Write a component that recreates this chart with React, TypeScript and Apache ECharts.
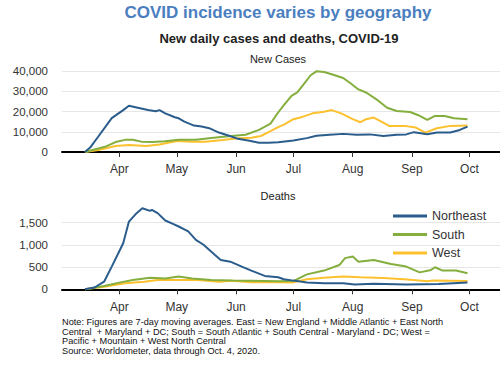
import React, { useEffect, useRef } from "react";
import * as echarts from "echarts";

// Axis domain: first and last day on the x axis
const axisStart = "2020-03-02";
const axisEnd = "2020-10-17";
const monthTicks = ["04-01", "05-01", "06-01", "07-01", "08-01", "09-01", "10-01"];
const monthLabels = ["Apr", "May", "Jun", "Jul", "Aug", "Sep", "Oct"];

const seriesNames = ["Northeast", "South", "West"];

const casesTicks = [0, 10000, 20000, 30000, 40000];
const deathsTicks = [0, 500, 1000, 1500];

// New cases (7-day avg)
const northeastCases: [string, number][] = [
  ["03-14", 0], ["03-17", 2500], ["03-21", 7650], ["03-28", 16700], ["04-03", 20700], ["04-06", 22850],
  ["04-10", 22000], ["04-16", 20700], ["04-20", 20100], ["04-22", 20700], ["04-25", 19100],
  ["04-30", 17150], ["05-02", 16650], ["05-05", 15000], ["05-10", 13050], ["05-14", 12550],
  ["05-18", 11750], ["05-23", 9600], ["05-28", 8150], ["06-02", 6500], ["06-08", 5550],
  ["06-13", 4560], ["06-18", 4560], ["06-23", 4800], ["07-01", 5700], ["07-08", 6850],
  ["07-13", 8000], ["07-20", 8500], ["07-27", 8950], ["08-03", 8500], ["08-10", 8700],
  ["08-17", 7850], ["08-24", 8500], ["08-29", 8700], ["09-02", 9800], ["09-09", 8800],
  ["09-14", 9600], ["09-21", 9600], ["09-26", 10900], ["09-30", 12550],
];
const southCases: [string, number][] = [
  ["03-14", 0], ["03-25", 2750], ["03-30", 4900], ["04-04", 6000], ["04-08", 6000], ["04-13", 5000],
  ["04-18", 4900], ["04-25", 5300], ["05-02", 6000], ["05-11", 6100], ["05-19", 6950],
  ["05-28", 7750], ["06-06", 8550], ["06-13", 10900], ["06-19", 14000], ["06-23", 19500],
  ["06-26", 23200], ["06-30", 27750], ["07-03", 29400], ["07-06", 33000], ["07-10", 37900],
  ["07-13", 39850], ["07-17", 39500], ["07-21", 38400], ["07-27", 36550], ["07-31", 33800],
  ["08-04", 30900], ["08-08", 29400], ["08-14", 25600], ["08-19", 21850], ["08-24", 20250],
  ["08-31", 19750], ["09-04", 18300], ["09-09", 15850], ["09-13", 17800], ["09-18", 17800],
  ["09-23", 16650], ["09-30", 16200],
];
const westCases: [string, number][] = [
  ["03-14", 0], ["03-21", 1000], ["03-30", 2950], ["04-06", 3400], ["04-15", 2950], ["04-22", 3750],
  ["05-01", 5400], ["05-09", 5050], ["05-16", 5100], ["05-25", 5900], ["06-02", 6800],
  ["06-09", 7000], ["06-14", 7900], ["06-19", 10300], ["06-23", 12300], ["06-26", 13500],
  ["07-01", 16200], ["07-06", 17450], ["07-11", 19100], ["07-17", 19900], ["07-21", 20700],
  ["07-26", 19100], ["08-01", 16200], ["08-05", 14700], ["08-08", 16200], ["08-12", 17000],
  ["08-16", 15000], ["08-20", 12900], ["08-28", 12900], ["09-03", 12050], ["09-08", 9600],
  ["09-14", 11750], ["09-21", 12900], ["09-30", 13050],
];

// Deaths (7-day avg)
const northeastDeaths: [string, number][] = [
  ["03-14", 0], ["03-19", 40], ["03-24", 170], ["03-28", 510], ["04-03", 1035], ["04-06", 1520],
  ["04-10", 1710], ["04-13", 1820], ["04-17", 1760], ["04-18", 1785], ["04-21", 1710],
  ["04-25", 1545], ["04-29", 1470], ["05-02", 1410], ["05-07", 1300], ["05-11", 1110],
  ["05-15", 1000], ["05-21", 770], ["05-24", 660], ["05-29", 620], ["06-04", 510],
  ["06-09", 420], ["06-16", 300], ["06-23", 270], ["06-26", 225], ["07-01", 195],
  ["07-08", 155], ["07-17", 135], ["07-27", 135], ["08-02", 110], ["08-12", 125],
  ["08-29", 110], ["09-15", 120], ["09-30", 150],
];
const southDeaths: [string, number][] = [
  ["03-14", 0], ["03-24", 75], ["04-01", 150], ["04-08", 210], ["04-17", 260], ["04-25", 245],
  ["05-02", 285], ["05-09", 240], ["05-19", 210], ["05-30", 195], ["06-09", 190],
  ["06-23", 180], ["07-01", 185], ["07-08", 335], ["07-17", 420], ["07-25", 545],
  ["07-28", 700], ["08-01", 735], ["08-04", 620], ["08-12", 660], ["08-21", 570],
  ["08-29", 510], ["09-05", 380], ["09-11", 435], ["09-13", 495], ["09-17", 420],
  ["09-24", 420], ["09-30", 360],
];
const westDeaths: [string, number][] = [
  ["03-14", 0], ["03-24", 55], ["04-04", 135], ["04-14", 170], ["04-21", 210], ["05-02", 210],
  ["05-12", 210], ["05-23", 170], ["05-30", 190], ["06-09", 160], ["06-23", 160],
  ["07-01", 155], ["07-08", 225], ["07-17", 260], ["07-27", 285], ["08-05", 270],
  ["08-17", 255], ["08-28", 225], ["09-09", 180], ["09-12", 200], ["09-30", 185],
];

const noteLines = [
  "Note: Figures are 7-day moving averages. East = New England + Middle Atlantic + East North",
  "Central  + Maryland + DC; South = South Atlantic + South Central - Maryland - DC; West =",
  "Pacific + Mountain + West North Central",
  "Source: Worldometer, data through Oct. 4, 2020.",
];

const colors = ["#2b5d8c", "#84ae3d", "#fdc12f"];

function buildDays(): string[] {
  const out: string[] = [];
  const s = new Date(axisStart + "T00:00:00Z").getTime();
  const e = new Date(axisEnd + "T00:00:00Z").getTime();
  for (let t = s; t <= e; t += 86400000) {
    out.push(new Date(t).toISOString().slice(5, 10));
  }
  return out;
}

export default function App() {
  const ref = useRef<HTMLDivElement>(null);
  useEffect(() => {
    if (!ref.current) return;
    const chart = echarts.init(ref.current, null, { renderer: "svg" });
    const days = buildDays();
    const font = "Liberation Sans, Arial, sans-serif";
    const isTick = (_i: number, v: string) => monthTicks.indexOf(v) >= 0;
    const xAxis = (gridIndex: number, offset: number) => ({
      type: "category",
      gridIndex,
      data: days,
      boundaryGap: false,
      offset,
      axisLine: { show: true, lineStyle: { color: "#000", width: 2 } },
      axisTick: { show: true, interval: isTick, length: 5, lineStyle: { color: "#333", width: 1 } },
      axisLabel: {
        interval: isTick,
        margin: 8,
        color: "#333",
        fontSize: 12,
        fontFamily: font,
        formatter: (v: string) => monthLabels[monthTicks.indexOf(v)] ?? "",
      },
      splitLine: { show: false },
    });
    const yAxis = (gridIndex: number, ticks: number[]) => ({
      type: "value",
      gridIndex,
      min: ticks[0],
      max: ticks[ticks.length - 1],
      interval: ticks[1] - ticks[0],
      axisLine: { show: false },
      axisTick: { show: false },
      axisLabel: {
        margin: 14,
        color: "#333",
        fontSize: 11.5,
        fontFamily: font,
        formatter: (v: number) => v.toLocaleString("en-US"),
      },
      splitLine: { show: true, lineStyle: { color: "#e6e6e6", width: 1 } },
    });
    const mk = (name: string, data: [string, number][], idx: number, color: string) => ({
      type: "line",
      name,
      data,
      xAxisIndex: idx,
      yAxisIndex: idx,
      showSymbol: false,
      symbol: "none",
      clip: false,
      lineStyle: { color, width: 2 },
      itemStyle: { color },
      z: 5 - seriesNames.indexOf(name),
    });
    const graphicTexts = [
      { text: "COVID incidence varies by geography", x: 278, y: 12, font: `bold 17px ${font}`, fill: "#4a7ebf", align: "center" },
      { text: "New daily cases and deaths, COVID-19", x: 279, y: 38, font: `bold 13px ${font}`, fill: "#222", align: "center" },
      { text: "New Cases", x: 278, y: 59, font: `11px ${font}`, fill: "#222", align: "center" },
      { text: "Deaths", x: 278, y: 196, font: `11px ${font}`, fill: "#222", align: "center" },
      ...noteLines.map((t, i) => ({ text: t, x: 62, y: 322 + i * 9.6, font: `9.2px ${font}`, fill: "#111", align: "left" })),
    ];
    chart.setOption({
      animation: false,
      color: colors,
      textStyle: { fontFamily: font },
      grid: [
        { left: 62, right: 0, top: 71, height: 81 },
        { left: 62, right: 0, top: 222.5, height: 66.8 },
      ],
      xAxis: [xAxis(0, 3), xAxis(1, 4)],
      yAxis: [yAxis(0, casesTicks), yAxis(1, deathsTicks)],
      legend: {
        orient: "vertical",
        left: 388,
        top: 204,
        itemWidth: 34,
        itemHeight: 3,
        itemGap: 4.5,
        icon: "rect",
        data: seriesNames,
        textStyle: { fontSize: 12.5, color: "#333", lineHeight: 14, fontFamily: font },
      },
      graphic: graphicTexts.map((g) => ({
        type: "text",
        x: g.x,
        y: g.y,
        style: { text: g.text, font: g.font, fill: g.fill, textAlign: g.align, textVerticalAlign: "middle" },
      })),
      series: [
        mk("Northeast", northeastCases, 0, colors[0]),
        mk("South", southCases, 0, colors[1]),
        mk("West", westCases, 0, colors[2]),
        mk("Northeast", northeastDeaths, 1, colors[0]),
        mk("South", southDeaths, 1, colors[1]),
        mk("West", westDeaths, 1, colors[2]),
      ],
    });
    return () => chart.dispose();
  }, []);
  return (
    <div
      ref={ref}
      style={{ position: "fixed", left: 0, top: 0, width: 500, height: 365, background: "#fff" }}
    />
  );
}
